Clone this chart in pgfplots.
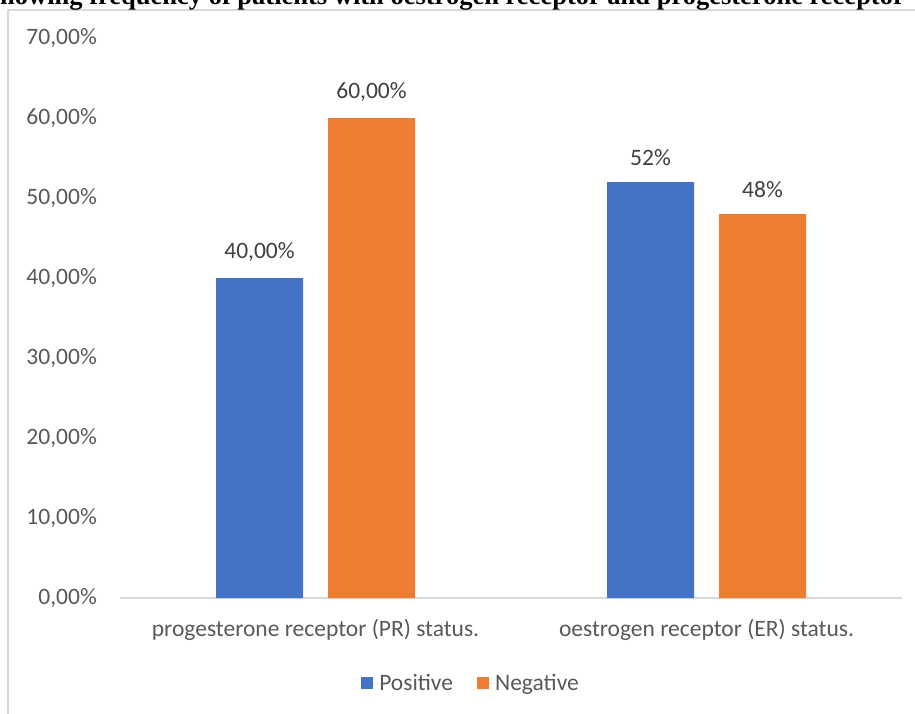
\documentclass[border=0pt]{standalone}
\usepackage{fontspec}
\setmainfont{Carlito}
\newfontfamily\titlefont{Liberation Serif}
\usepackage{pgfplots}
\pgfplotsset{compat=1.18}
\usepackage{pgfplotstable}
\definecolor{cblue}{HTML}{4472C4}
\definecolor{corange}{HTML}{ED7D31}
\definecolor{ticklab}{HTML}{595959}
\definecolor{datalab}{HTML}{404040}
\definecolor{framegray}{HTML}{D9D9D9}

\pgfplotstableread{
x y lab
0 40 {40,00\%}
1 52 {52\%}
}\positive
\pgfplotstableread{
x y lab
0 60 {60,00\%}
1 48 {48\%}
}\negative

\begin{document}
\begin{tikzpicture}
\path[use as bounding box] (0pt,0pt) rectangle (915pt,713pt);
\clip (0pt,0pt) rectangle (915pt,713pt);
\fill[white] (0pt,0pt) rectangle (915pt,713pt);
\draw[framegray, line width=1.5pt] (8pt,-20pt) -- (8pt,703pt) -- (940pt,703pt);
\node[anchor=base east, inner sep=0pt, font=\titlefont\bfseries\fontsize{26.5}{30}\selectfont] at (905pt,708pt) {Showing frequency of patients with oestrogen receptor and progesterone receptor};
\begin{axis}[
  at={(120pt,115pt)}, anchor=south west,
  scale only axis, width=782pt, height=560pt,
  ybar=25pt, bar width=87pt,
  xmin=-0.5, xmax=1.5, ymin=0, ymax=70,
  xtick={0,1},
  xticklabels={progesterone receptor (PR) status., oestrogen receptor (ER) status.},
  ytick={0,10,...,70},
  yticklabel={\pgfmathprintnumber[fixed,fixed zerofill,precision=2,use comma]{\tick}\%},
  /pgf/number format/assume math mode=true,
  major tick length=0pt,
  axis x line*=bottom, axis y line*=left,
  x axis line style={draw=framegray, line width=1.2pt, -},
  y axis line style={draw=none},
  ticklabel style={font=\fontsize{23.5}{27}\selectfont, text=ticklab},
  yticklabel style={anchor=east, inner sep=0pt, xshift=-23pt},
  xticklabel style={anchor=north, inner sep=0pt, yshift=-21pt},
  nodes near coords={\pgfplotspointmeta},
  point meta=explicit symbolic,
  every node near coord/.append style={font=\fontsize{23.5}{27}\selectfont, text=datalab, anchor=south, inner sep=0pt, yshift=16pt},
  legend style={at={(0.4476,0)}, anchor=center, yshift=-85pt, draw=none, fill=none,
    font=\fontsize{23.5}{27}\selectfont, text=ticklab, legend columns=2,
    nodes={inner sep=0pt},
    /tikz/every even column/.append style={column sep=24pt}},
  legend image code/.code={\fill[#1] (0pt,-6pt) rectangle (12pt,6pt); \path (0pt,0pt) -- (18pt,0pt);},
]
\addplot[fill=cblue, draw=none] table[x=x, y=y, meta=lab] {\positive};
\addplot[fill=corange, draw=none] table[x=x, y=y, meta=lab] {\negative};
\legend{Positive, Negative}
\end{axis}
\end{tikzpicture}
\end{document}
